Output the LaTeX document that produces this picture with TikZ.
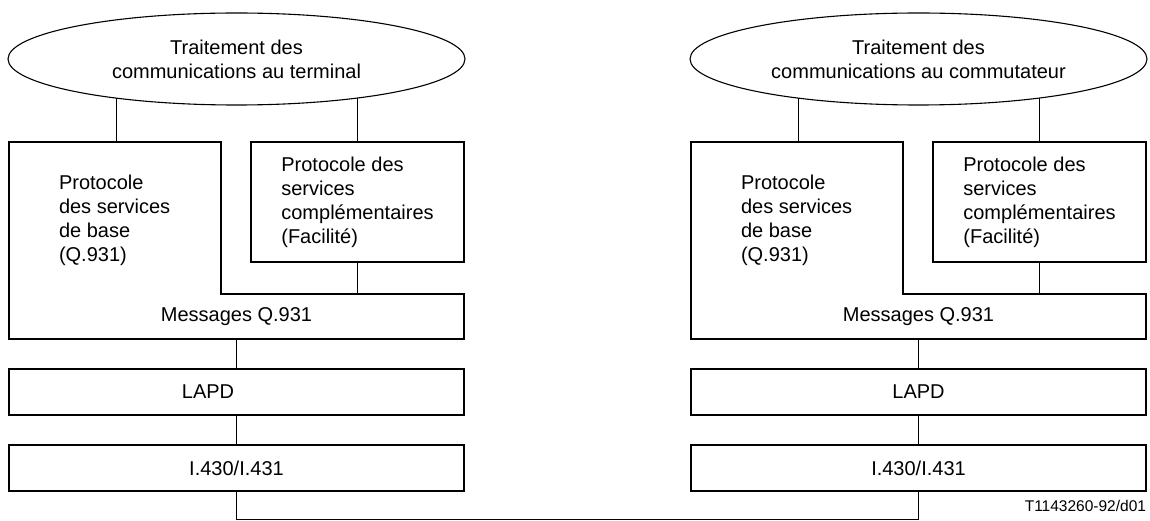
\documentclass[tikz,border=0pt]{standalone}
\usepackage{fontspec}
\setmainfont{Liberation Sans}
\usetikzlibrary{shapes.geometric}
\tikzset{
  traitement/.style={draw, ellipse, minimum width=457pt, minimum height=92pt,
    inner sep=0pt, outer sep=0pt, align=center},
  facilite/.style={draw, rectangle, minimum width=213pt, minimum height=120pt,
    inner sep=0pt, outer sep=0pt, align=left},
  couche/.style={draw, rectangle, minimum width=455pt, minimum height=46pt,
    inner sep=0pt, outer sep=0pt},
  texte/.style={inner sep=0pt, outer sep=0pt, align=left}
}

\begin{document}
\begin{tikzpicture}[x=1pt, y=-1pt, line width=1.1pt,
    font=\fontsize{20pt}{24pt}\selectfont]
      \useasboundingbox (0,0) rectangle (1150,521);

      % terminal
      \node [traitement] (t1) at (236.5,59) {Traitement des\\communications au terminal};
      \node [facilite] (f1) at (357.5,202) {Protocole des\\services\\compl\'ementaires\\(Facilit\'e)};
      \node [texte, anchor=west] (b1) at (59,220) {Protocole\\des services\\de base\\(Q.931)};
      \node [texte, minimum width=455pt, minimum height=45pt] (m1) at (236.5,316.5) {Messages Q.931};
      \coordinate (c1) at (221,142);
      \node [couche] (l1) at (236.5,392) {};
      \node [texte] (lt1) at (208,392) {LAPD};
      \node [couche] (p1) at (236.5,468) {I.430/I.431};

      \draw (m1.south west) |- (c1) |- (m1.north east) -- (m1.south east) -- cycle;
      \draw (t1.-162) -- (t1.-162 |- c1);
      \draw (f1.north) -- (f1.north |- t1.-18);
      \draw (f1.south) -- (f1.south |- m1.north);
      \draw (m1) -- (l1);
      \draw (l1) -- (p1);

      % commutateur
      \node [traitement] (t2) at (918.5,59) {Traitement des\\communications au commutateur};
      \node [facilite] (f2) at (1039.5,202) {Protocole des\\services\\compl\'ementaires\\(Facilit\'e)};
      \node [texte, anchor=west] (b2) at (741,220) {Protocole\\des services\\de base\\(Q.931)};
      \node [texte, minimum width=455pt, minimum height=45pt] (m2) at (918.5,316.5) {Messages Q.931};
      \coordinate (c2) at (903,142);
      \node [couche] (l2) at (918.5,392) {LAPD};
      \node [couche] (p2) at (918.5,468) {I.430/I.431};

      \draw (m2.south west) |- (c2) |- (m2.north east) -- (m2.south east) -- cycle;
      \draw (t2.-162) -- (t2.-162 |- c2);
      \draw (f2.north) -- (f2.north |- t2.-18);
      \draw (f2.south) -- (f2.south |- m2.north);
      \draw (m2) -- (l2);
      \draw (l2) -- (p2);

      % liaison
      \draw (p1.south) -- ++(0,28.5) -| (p2.south);
      \node [texte, anchor=east, font=\fontsize{15.5pt}{18pt}\selectfont] (ref) at (1146,506) {T1143260-92/d01};
    \end{tikzpicture}
\end{document}
